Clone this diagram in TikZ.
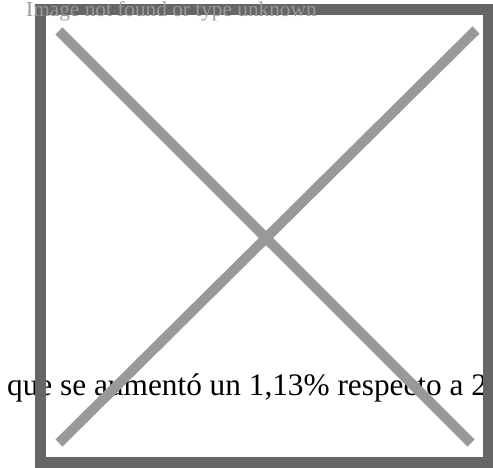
\documentclass[tikz,border=0pt]{standalone}
\usepackage{fontspec}
\setmainfont{Liberation Serif}
\definecolor{framegray}{HTML}{666666}
\definecolor{crossgray}{HTML}{999999}

\begin{document}
\begin{tikzpicture}[x=1pt,y=1pt]
            \tikzstyle{every node}+=[inner sep=0pt]
            \useasboundingbox (0,0) rectangle (493,-468);
            \node (caption) [anchor=base west] at (7,-395) {\fontsize{31.3}{37}\selectfont que se aumentó un 1,13\% respecto a 2};
            \draw [framegray, line width=11] (40.5,-9.5) rectangle (488.5,-462.5);
            \coordinate (tl) at (59,-31);
            \coordinate (br) at (471,-443);
            \coordinate (bl) at (59,-443);
            \coordinate (tr) at (476,-30);
            \draw [crossgray, line width=10] (tl) -- (br);
            \draw [crossgray, line width=10] (bl) -- (tr);
            \node (missing) [anchor=base west, crossgray] at (26,-16.5) {\fontsize{21.3}{25}\selectfont Image not found or type unknown};
        \end{tikzpicture}
\end{document}
